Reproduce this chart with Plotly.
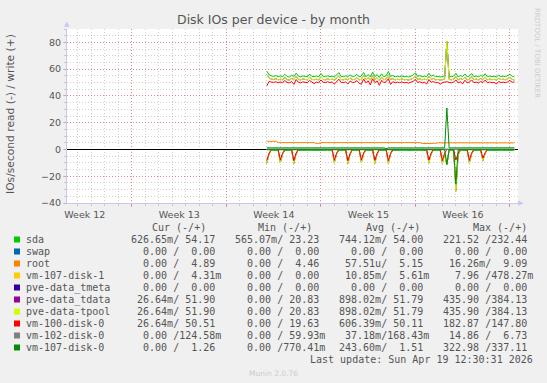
import plotly.graph_objects as go

# ---------------- data (time in days, 4h samples from Week 14 start) ----------------
N = 111
t_start = 14.0
t_step = 1.0 / 6.0
t = [t_start + i * t_step for i in range(N)]

week_ticks = [4, 11, 18, 25, 32]
week_labels = ["Week 12", "Week 13", "Week 14", "Week 15", "Week 16"]
y_ticks = [-40, -20, 0, 20, 40, 60, 80]

sda_w = [58.5,55.8,55.0,54.6,55.2,54.3,54.9,54.4,56.2,54.5,
         54.1,55.4,54.6,57.0,54.8,54.2,55.0,54.5,54.3,56.3,
         54.6,54.4,54.9,54.2,56.8,54.7,54.3,55.1,54.4,54.8,
         54.2,55.6,57.4,54.6,54.3,55.0,54.5,55.7,54.4,54.8,
         56.1,54.2,54.9,57.5,54.3,56.0,54.1,57.8,54.4,55.9,
         53.8,56.5,54.3,55.1,58.2,54.6,55.3,54.2,54.8,54.4,
         55.0,54.3,54.6,54.1,54.7,55.6,57.3,54.5,55.2,54.3,
         54.8,54.4,57.0,54.7,55.5,54.3,54.6,54.1,54.5,55.0,
         80.0,54.6,54.3,54.8,56.9,54.2,55.2,54.5,56.4,54.3,
         54.8,56.8,54.4,54.9,54.2,55.3,54.6,56.6,54.3,54.9,
         54.4,54.7,54.2,55.4,54.5,54.8,54.3,55.1,56.2,54.7,
         54.2]
sda_r = [8.6,3.0,0.6,0.7,0.6,0.7,8.4,3.1,0.7,0.6,
         0.7,0.6,8.7,2.9,0.7,0.6,0.7,0.6,0.6,0.7,
         0.6,0.7,0.6,0.6,0.7,0.6,0.7,0.6,0.6,0.7,
         8.5,3.0,0.7,0.6,0.7,0.6,8.8,3.2,0.7,0.6,
         0.7,0.6,8.3,2.9,0.6,0.7,0.6,0.7,8.6,3.1,
         0.7,0.6,0.7,0.6,8.9,3.0,0.7,0.6,0.7,0.6,
         0.7,0.6,0.7,0.6,0.6,0.7,0.6,0.7,0.6,0.7,
         0.6,0.7,8.4,3.0,0.7,0.6,0.7,0.6,8.8,3.1,
         11.0,0.6,0.7,0.6,27.5,4.0,0.6,0.7,0.6,0.7,
         8.5,3.0,0.7,0.6,0.7,0.6,7.6,2.7,0.6,0.7,
         0.6,0.7,0.6,0.7,0.6,0.7,0.6,0.7,0.6,0.7,
         0.6]
swap_w = [0.0] * N
swap_r = [0.0] * N
root_w = [6.1,6.1,6.1,6.1,6.1,5.1,5.1,5.1,5.1,5.1,
          5.1,5.1,5.1,5.1,5.1,5.1,5.1,5.1,5.1,5.1,
          5.1,5.1,4.4,4.4,5.1,5.1,5.1,5.1,5.1,5.1,
          5.1,5.1,5.1,5.1,5.1,5.1,5.1,5.1,5.1,5.1,
          5.1,5.1,5.1,5.1,5.1,5.1,5.1,5.1,5.1,5.1,
          5.1,5.1,5.1,5.1,5.1,5.1,5.1,5.1,5.1,5.1,
          5.1,5.1,5.1,5.1,5.1,5.1,5.1,5.1,5.1,4.5,
          4.4,4.6,4.5,4.4,4.6,4.5,5.0,5.0,5.0,5.0,
          5.0,5.0,5.0,5.0,5.0,5.0,5.0,5.0,5.0,5.0,
          4.6,4.6,4.6,4.6,4.9,4.9,4.9,4.9,4.9,4.9,
          4.9,4.9,4.9,4.9,4.9,4.9,4.9,4.9,4.9,4.9,
          4.9]
root_r = [0.0] * N
vm107d1_w = [0.006] * N
vm107d1_r = [0.01] * N
tmeta_w = [0.0] * N
tmeta_r = [0.0] * N
tpool_w = [56.0,53.3,52.6,52.3,52.9,52.0,52.5,52.1,53.7,52.2,
           51.8,53.0,52.3,54.6,52.4,51.9,52.7,52.2,52.0,53.9,
           52.3,52.1,52.5,51.9,54.3,52.4,52.0,52.8,52.1,52.5,
           51.9,53.2,55.0,52.3,52.0,52.6,52.2,53.3,52.1,52.4,
           53.7,51.9,52.5,55.1,51.9,53.6,51.8,55.3,52.1,53.5,
           51.4,54.0,52.0,52.8,55.7,52.3,52.9,51.9,52.5,52.1,
           52.7,52.0,52.3,51.8,52.4,53.2,54.9,52.2,52.9,52.0,
           52.5,52.1,54.6,52.4,53.1,52.0,52.3,51.8,52.2,52.7,
           81.0,52.3,52.0,52.5,54.5,51.9,52.9,52.2,54.0,52.0,
           52.5,54.4,52.1,52.6,51.9,53.0,52.3,54.2,52.0,52.6,
           52.1,52.4,51.9,53.1,52.2,52.5,52.0,52.8,53.8,52.4,
           51.9]
tpool_r = [10.4,3.4,0.03,0.03,0.03,0.03,10.1,3.5,0.03,0.03,
           0.03,0.03,10.6,3.3,0.03,0.03,0.03,0.03,0.03,0.03,
           0.03,0.03,0.03,0.03,0.03,0.03,0.03,0.03,0.03,0.03,
           10.2,3.4,0.03,0.03,0.03,0.03,10.7,3.6,0.03,0.03,
           0.03,0.03,10.0,3.3,0.03,0.03,0.03,0.03,10.4,3.5,
           0.03,0.03,0.03,0.03,10.6,3.4,0.03,0.03,0.03,0.03,
           0.03,0.03,0.03,0.03,0.03,0.03,0.03,0.03,0.03,0.03,
           0.03,0.03,10.2,3.4,0.03,0.03,0.03,0.03,10.5,3.5,
           11.6,0.03,0.03,0.03,31.2,4.5,0.03,0.03,0.03,0.03,
           10.3,3.4,0.03,0.03,0.03,0.03,8.4,3.0,0.03,0.03,
           0.03,0.03,0.03,0.03,0.03,0.03,0.03,0.03,0.03,0.03,
           0.03]
tdata_w = list(tpool_w)   # identical to pve-data-tpool in the legend
tdata_r = list(tpool_r)
vm100_w = [47.5,50.9,50.3,50.1,50.6,49.8,50.4,50.0,51.4,50.1,
           49.7,50.8,48.6,52.3,50.3,49.8,50.5,50.1,49.9,51.6,
           50.2,49.2,50.4,49.8,51.9,50.3,49.9,50.6,50.0,50.4,
           48.8,51.0,52.5,50.2,49.9,50.5,48.9,51.1,50.0,50.3,
           51.4,49.5,48.7,52.6,49.8,51.3,48.2,52.8,50.0,51.2,
           47.9,51.7,49.9,50.6,52.9,48.6,50.7,49.8,50.3,49.9,
           50.5,49.8,50.1,49.6,50.2,50.9,52.4,50.0,50.6,49.7,
           50.3,48.9,52.2,50.2,50.8,49.8,50.1,48.7,50.0,50.5,
           50.6,50.1,49.8,50.3,52.0,49.7,50.6,49.0,51.7,49.8,
           50.3,52.0,49.9,50.4,49.7,50.7,50.1,51.8,49.8,50.4,
           49.9,50.2,48.9,50.8,50.0,50.3,49.8,50.5,51.6,50.2,
           50.5]
vm100_r = [8.2,2.9,0.03,0.03,0.03,0.03,7.9,2.8,0.03,0.03,
           0.03,0.03,8.4,3.0,0.03,0.03,0.03,0.03,0.03,0.03,
           0.03,0.03,0.03,0.03,0.03,0.03,0.03,0.03,0.03,0.03,
           8.0,2.8,0.03,0.03,0.03,0.03,8.5,3.0,0.03,0.03,
           0.03,0.03,7.8,2.7,0.03,0.03,0.03,0.03,8.2,2.9,
           0.03,0.03,0.03,0.03,8.3,2.9,0.03,0.03,0.03,0.03,
           0.03,0.03,0.03,0.03,0.03,0.03,0.03,0.03,0.03,0.03,
           0.03,0.03,8.0,2.8,0.03,0.03,0.03,0.03,8.3,2.9,
           0.03,0.03,0.03,0.03,8.0,2.8,0.03,0.03,0.03,0.03,
           8.1,2.8,0.03,0.03,0.03,0.03,6.5,2.4,0.03,0.03,
           0.03,0.03,0.03,0.03,0.03,0.03,0.03,0.03,0.03,0.03,
           0.03]
vm102_w = [0.15] * N
vm102_r = [0.04] * N
vm107d0_w = [1.2,1.2,1.2,1.2,1.2,1.2,1.2,1.2,1.2,1.2,
             1.2,1.2,1.2,1.2,1.2,1.2,1.2,1.2,1.2,1.2,
             1.2,1.2,1.2,1.2,1.2,1.2,1.2,1.2,1.2,1.2,
             1.2,1.2,1.2,1.2,1.2,1.2,1.2,1.2,1.2,1.2,
             1.2,1.2,1.2,1.2,1.2,1.2,1.2,1.2,1.2,1.2,
             1.2,1.2,1.2,0.6,1.2,1.2,1.2,1.2,1.2,1.2,
             1.2,1.2,1.2,1.2,1.2,1.2,1.2,1.2,1.2,1.6,
             1.2,1.2,1.2,1.2,1.2,1.2,1.2,1.2,1.2,1.2,
             31.0,1.2,1.2,1.2,1.2,1.2,1.2,1.2,1.2,1.2,
             1.2,1.2,1.2,1.2,1.2,1.2,1.2,1.2,1.2,1.2,
             1.25,1.25,1.25,1.25,1.25,1.25,1.25,1.25,1.25,1.25,
             1.25]
vm107d0_r = [0.2,0.2,0.2,0.2,0.2,0.2,0.2,0.2,0.2,0.2,
             0.2,0.2,0.2,0.2,0.2,0.2,0.2,0.2,0.2,0.2,
             0.2,0.2,0.2,0.2,0.2,0.2,0.2,0.2,0.2,0.2,
             0.2,0.2,0.2,0.2,0.2,0.2,0.2,0.2,0.2,0.2,
             0.2,0.2,0.2,0.2,0.2,0.2,0.2,0.2,0.2,0.2,
             0.2,0.2,0.2,0.2,0.2,0.2,0.2,0.2,0.2,0.2,
             0.2,0.2,0.2,0.2,0.2,0.2,0.2,0.2,0.2,0.2,
             0.2,0.2,0.2,0.2,0.2,0.2,0.2,0.2,0.2,0.2,
             11.2,0.2,0.2,0.2,26.0,0.2,0.2,0.2,0.2,0.2,
             0.2,0.2,0.2,0.2,0.2,0.2,0.2,0.2,0.2,0.2,
             0.2,0.2,0.2,0.2,0.2,0.2,0.2,0.2,0.2,0.2,
             0.2]

devices = ["sda", "swap", "root", "vm-107-disk-1", "pve-data_tmeta", "pve-data_tdata",
           "pve-data-tpool", "vm-100-disk-0", "vm-102-disk-0", "vm-107-disk-0"]
colors = ["#00CC00", "#0066B3", "#FF8000", "#FFCC00", "#330099", "#990099",
          "#CCFF00", "#FF0000", "#808080", "#008F00"]
writes = [sda_w, swap_w, root_w, vm107d1_w, tmeta_w, tdata_w, tpool_w, vm100_w, vm102_w, vm107d0_w]
reads = [sda_r, swap_r, root_r, vm107d1_r, tmeta_r, tdata_r, tpool_r, vm100_r, vm102_r, vm107d0_r]

cur_col = ["626.65m/ 54.17 ", "  0.00 /  0.00 ", "  0.00 /  4.89 ", "  0.00 /  4.31m",
           "  0.00 /  0.00 ", " 26.64m/ 51.90 ", " 26.64m/ 51.90 ", " 26.64m/ 50.51 ",
           "  0.00 /124.58m", "  0.00 /  1.26 "]
min_col = ["565.07m/ 23.23 ", "  0.00 /  0.00 ", "  0.00 /  4.46 ", "  0.00 /  0.00 ",
           "  0.00 /  0.00 ", "  0.00 / 20.83 ", "  0.00 / 20.83 ", "  0.00 / 19.63 ",
           "  0.00 / 59.93m", "  0.00 /770.41m"]
avg_col = ["744.12m/ 54.00 ", "  0.00 /  0.00 ", " 57.51u/  5.15 ", " 10.85m/  5.61m",
           "  0.00 /  0.00 ", "898.02m/ 51.79 ", "898.02m/ 51.79 ", "606.39m/ 50.11 ",
           " 37.18m/168.43m", "243.60m/  1.51 "]
max_col = ["221.52 /232.44 ", "  0.00 /  0.00 ", " 16.26m/  9.09 ", "  7.96 /478.27m",
           "  0.00 /  0.00 ", "435.90 /384.13 ", "435.90 /384.13 ", "182.87 /147.80 ",
           " 14.86 /  6.73 ", "322.98 /337.11 "]
headers = ["Cur (-/+)", "Min (-/+)", "Avg (-/+)", "Max (-/+)"]
last_update = "Last update: Sun Apr 19 12:30:31 2026"

# ---------------- layout geometry ----------------
W, H = 547, 383
L, R, T, B = 67, 29, 29, 180
PW, PH = W - L - R, H - T - B

def px(x):
    return (x - L) / PW

def py(y):
    return (T + PH - y) / PH

TXT = "#555555"
SANS = "DejaVu Sans"
MONO = "DejaVu Sans Mono"
RED_GRID = "rgba(230,80,80,0.55)"
GREY_GRID = "rgba(150,150,150,0.45)"

fig = go.Figure()
for name, col, w, r in zip(devices, colors, writes, reads):
    fig.add_trace(go.Scatter(x=t, y=[-v for v in r], mode="lines", name=name + " read",
                             line=dict(color=col, width=1), hoverinfo="skip", showlegend=False))
    fig.add_trace(go.Scatter(x=t, y=w, mode="lines", name=name,
                             line=dict(color=col, width=1), hoverinfo="skip", showlegend=False))

def nb(s):
    return s.replace(" ", "\u00a0")

ann = []
def add_text(x, y, text, size, color=TXT, family=SANS, xanchor="left", angle=0):
    ann.append(dict(x=px(x), y=py(y), xref="paper", yref="paper", text=nb(text), showarrow=False,
                    xanchor=xanchor, yanchor="middle", textangle=angle, borderpad=0, borderwidth=0,
                    font=dict(family=family, size=size, color=color)))

add_text(273.5, 19.5, "Disk IOs per device - by month", 12.5, xanchor="center")
add_text(10, 114, "IOs/second read (-) / write (+)", 10.7, xanchor="center", angle=-90)
add_text(537, 53, "RRDTOOL / TOBI OETIKER", 7, color="#cccccc", xanchor="center", angle=90)
add_text(273, 373, "Munin 2.0.76", 7.5, color="#cccccc", xanchor="center")
# axis arrows
add_text(67, 24.5, "\u25b2", 7, color="#c8c8f0", xanchor="center")
add_text(521, 203, "\u25b6", 7, color="#c8c8f0", xanchor="center")

head_x = [151.7, 258.3, 365.7, 472.7]
for hx, h in zip(head_x, headers):
    add_text(hx, 227.5, h, 10, family=MONO)
col_x = [130.7, 235.0, 339.3, 443.0]
shapes = []
for k, name in enumerate(devices):
    yy = 239.5 + 12 * k
    add_text(26.3, yy, name, 10, family=MONO)
    for cx, colvals in zip(col_x, [cur_col, min_col, avg_col, max_col]):
        add_text(cx, yy, colvals[k], 10, family=MONO)
    shapes.append(dict(type="rect", xref="paper", yref="paper",
                       x0=px(14), x1=px(20), y0=py(yy + 3), y1=py(yy - 3),
                       fillcolor=colors[k], line=dict(width=0)))
add_text(533, 359.5, last_update, 10, family=MONO, xanchor="right")

fig.update_layout(
    width=W, height=H, autosize=False,
    margin=dict(l=L, r=R, t=T, b=B, pad=0),
    paper_bgcolor="#f0f0f0", plot_bgcolor="#ffffff",
    annotations=ann, shapes=shapes,
    xaxis=dict(range=[-0.8, 32.6], tickvals=week_ticks, ticktext=week_labels,
               ticklabelshift=-47, showgrid=True, gridcolor=RED_GRID, griddash="1px,2px",
               ticks="outside", ticklen=3, tickcolor=RED_GRID,
               tickfont=dict(family=SANS, size=9.5, color=TXT),
               showline=True, linecolor="#c8c8f0", linewidth=1, zeroline=False,
               minor=dict(dtick=1, tick0=0, showgrid=True, gridcolor=GREY_GRID, griddash="1px,2px",
                          ticks="outside", ticklen=2, tickcolor=GREY_GRID),
               fixedrange=True),
    yaxis=dict(range=[-40, 90], tickvals=y_ticks, showgrid=True, gridcolor=RED_GRID, griddash="1px,2px",
               ticks="outside", ticklen=3, tickcolor=GREY_GRID,
               tickfont=dict(family=SANS, size=9.5, color=TXT),
               showline=True, linecolor="#c8c8f0", linewidth=1,
               zeroline=True, zerolinecolor="#000000", zerolinewidth=1,
               minor=dict(dtick=5, tick0=0, showgrid=True, gridcolor=GREY_GRID, griddash="1px,2px",
                          ticks="outside", ticklen=2, tickcolor=GREY_GRID),
               fixedrange=True),
)

fig.write_html("out.html")
